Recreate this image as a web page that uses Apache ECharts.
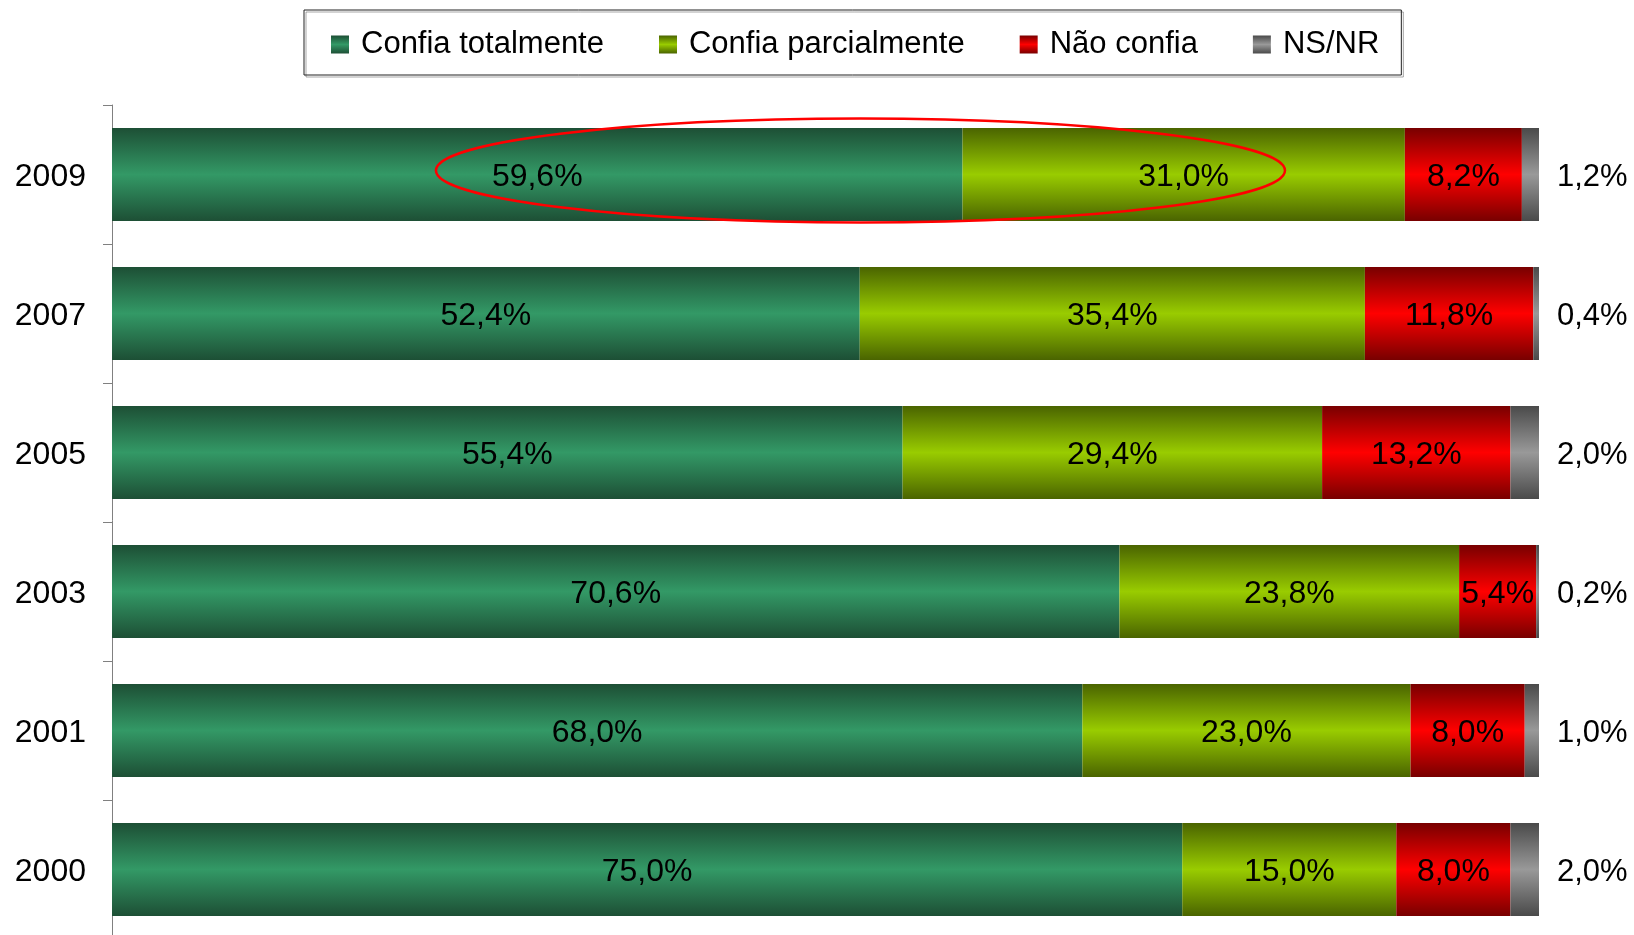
<!DOCTYPE html>
<html>
<head>
<meta charset="utf-8">
<script src="https://cdn.jsdelivr.net/npm/echarts@6/dist/echarts.min.js"></script>
<style>
  html, body { margin: 0; padding: 0; background: #fff; }
  #chart { width: 1634px; height: 935px; }
</style>
</head>
<body>
<div id="chart"></div>
<script>
// anos (de baixo para cima)
var years = ["2000", "2001", "2003", "2005", "2007", "2009"];
var seriesNames = ["Confia totalmente", "Confia parcialmente", "Não confia", "NS/NR"];
var confiaTotal = [75.0, 68.0, 70.6, 55.4, 52.4, 59.6];
var confiaParcial = [15.0, 23.0, 23.8, 29.4, 35.4, 31.0];
var naoConfia = [8.0, 8.0, 5.4, 13.2, 11.8, 8.2];
var nsnr = [2.0, 1.0, 0.2, 2.0, 0.4, 1.2];

// destaque em 2009 (elipse vermelha), em valores do eixo
var ringYear = "2009";
var ringFrom = 22.7;
var ringTo = 82.2;

var FONT = "Liberation Sans, Arial, sans-serif";

function grad(dark, light) {
  return new echarts.graphic.LinearGradient(0, 0, 0, 1, [
    { offset: 0, color: dark },
    { offset: 0.5, color: light },
    { offset: 1, color: dark }
  ]);
}

function pct(p) {
  return p.value.toFixed(1).replace(".", ",") + "%";
}

var colors = [
  grad("#1d4f35", "#339966"),
  grad("#4a6400", "#99cc00"),
  grad("#780000", "#ff0000"),
  grad("#4a4a4a", "#999999")
];

function bar(name, data, color, labelPos) {
  return {
    name: name,
    type: "bar",
    stack: "total",
    barWidth: 93,
    data: data,
    itemStyle: { color: color },
    label: {
      show: true,
      position: labelPos,
      distance: 18,
      offset: [0, 3],
      formatter: pct,
      color: "#000",
      fontSize: labelPos === "right" ? 31 : 32,
      fontFamily: FONT
    }
  };
}

var chart = echarts.init(document.getElementById("chart"));
chart.setOption({
  animation: false,
  textStyle: { fontFamily: FONT },
  legend: {
    left: 304,
    top: 10,
    padding: [19, 22, 15, 27],
    itemWidth: 18,
    itemHeight: 18,
    itemGap: 55,
    borderColor: "#222",
    borderWidth: 1,
    shadowColor: "rgba(0,0,0,0.35)",
    shadowOffsetX: 2,
    shadowOffsetY: 2,
    icon: "rect",
    textStyle: { fontSize: 31, color: "#000", fontFamily: FONT, padding: [0, 0, 0, 7] },
    data: seriesNames
  },
  grid: { left: 112, right: 95, top: 105, bottom: -4, outerBoundsMode: "none" },
  xAxis: {
    type: "value",
    min: 0,
    max: 100,
    show: false
  },
  yAxis: {
    type: "category",
    data: years,
    axisLine: { show: true, lineStyle: { color: "#808080", width: 1 } },
    axisTick: { show: true, length: 9, lineStyle: { color: "#808080" } },
    axisLabel: {
      margin: 26,
      formatter: function (v) { return "{y|" + v + "}"; },
      rich: {
        y: { color: "#000", fontSize: 32, fontFamily: FONT, padding: [6, 0, 0, 0] }
      }
    }
  },
  series: [
    bar(seriesNames[0], confiaTotal, colors[0], "inside"),
    bar(seriesNames[1], confiaParcial, colors[1], "inside"),
    bar(seriesNames[2], naoConfia, colors[2], "inside"),
    bar(seriesNames[3], nsnr, colors[3], "right")
  ]
});

// elipse de destaque
var p1 = chart.convertToPixel({ gridIndex: 0 }, [ringFrom, ringYear]);
var p2 = chart.convertToPixel({ gridIndex: 0 }, [ringTo, ringYear]);
chart.setOption({
  graphic: [{
    type: "ellipse",
    z: 100,
    shape: { cx: (p1[0] + p2[0]) / 2, cy: p1[1] - 4, rx: (p2[0] - p1[0]) / 2, ry: 52 },
    style: { fill: null, stroke: "#ff0000", lineWidth: 2.5 }
  }]
});
</script>
</body>
</html>
